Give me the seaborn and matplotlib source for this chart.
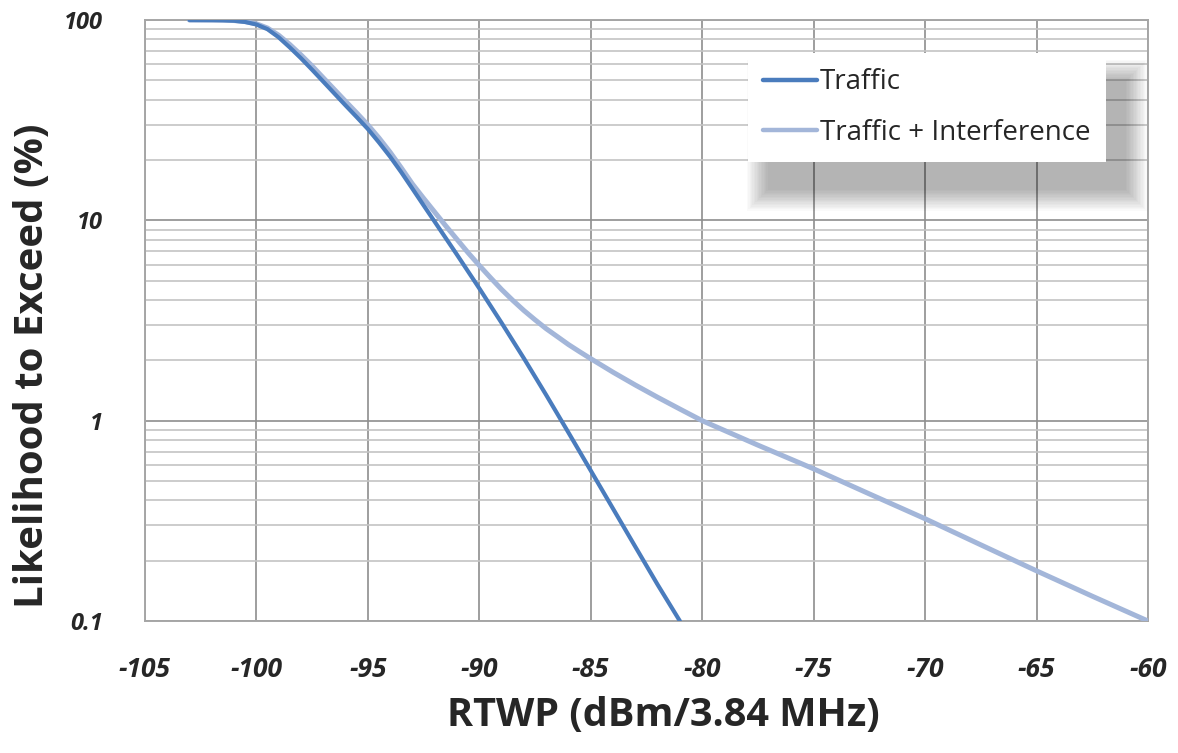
import matplotlib.pyplot as plt
import matplotlib.patches as mpatches
from matplotlib.ticker import FixedLocator, LogLocator, NullFormatter
import seaborn as sns
import pandas as pd
import numpy as np

# RTWP (dBm/3.84 MHz) vs likelihood to exceed (%)
traffic_x = [-103, -102, -101.5, -101, -100.5, -100, -99.5, -99, -98.5, -98, -97.5, -97,
             -96.5, -96, -95.5, -95, -94.5, -94, -93.5, -93, -92.5, -92, -91, -90, -89,
             -88, -87, -86, -85, -84, -83, -82, -81]
traffic_y = [100, 99.9, 99.7, 99.2, 97.8, 95, 90, 82, 73, 64.5, 56.5, 49.3,
             43, 37.5, 32.8, 28.6, 24.5, 20.8, 17.4, 14.4, 11.9, 9.85, 6.74, 4.58, 3.08,
             2.05, 1.345, 0.873, 0.564, 0.364, 0.235, 0.152, 0.1]

interf_x = [-103, -102, -101.5, -101, -100.5, -100, -99.5, -99, -98.5, -98, -97.5, -97,
            -96.5, -96, -95.5, -95, -94.5, -94, -93.5, -93, -92.5, -92, -91.5, -91,
            -90.5, -90, -89.5, -89, -88.5, -88, -87.5, -87, -86.5, -86, -85.5, -85,
            -84, -83, -82, -81, -80, -77.5, -75, -72.5, -70, -67.5, -65, -62.5, -60]
interf_y = [100, 99.9, 99.8, 99.4, 98.2, 95.8, 91.2, 84, 75.5, 67, 59, 51.5,
            45, 39.3, 34.4, 30, 25.8, 21.9, 18.3, 15.2, 12.9, 11.0, 9.38, 8.04,
            6.89, 5.96, 5.18, 4.52, 3.99, 3.55, 3.19, 2.88, 2.63, 2.40, 2.21, 2.04,
            1.746, 1.507, 1.309, 1.143, 1.0, 0.755, 0.575, 0.431, 0.324, 0.24,
            0.178, 0.133, 0.1]

x_ticks = [-105, -100, -95, -90, -85, -80, -75, -70, -65, -60]
y_ticks = [0.1, 1, 10, 100]
y_tick_labels = ['0.1', '1', '10', '100']

df_t = pd.DataFrame({'x': traffic_x, 'y': traffic_y})
df_i = pd.DataFrame({'x': interf_x, 'y': interf_y})

sns.set_style('white')
plt.rcParams['font.family'] = ['Open Sans', 'DejaVu Sans']

fig = plt.figure(figsize=(11.78, 7.53), dpi=100)
ax = fig.add_axes([0.123, 0.1753, 0.8515, 0.7981])

sns.lineplot(data=df_i, x='x', y='y', ax=ax, color='#a3b6d9', linewidth=3.6,
             label='Traffic + Interference', zorder=3)
sns.lineplot(data=df_t, x='x', y='y', ax=ax, color='#4a7cbd', linewidth=3.0,
             label='Traffic', zorder=4)

ax.set_yscale('log')
ax.set_xlim(-105, -60)
ax.set_ylim(0.1, 100)
ax.xaxis.set_major_locator(FixedLocator(x_ticks))
ax.yaxis.set_major_locator(FixedLocator(y_ticks))
ax.yaxis.set_minor_locator(LogLocator(base=10, subs=np.arange(2, 10)))
ax.yaxis.set_minor_formatter(NullFormatter())
ax.set_yticklabels(y_tick_labels)
ax.set_xticklabels([str(v) for v in x_ticks])

ax.grid(True, which='major', axis='both', color='#8e8e8e', linewidth=1.2)
ax.grid(True, which='minor', axis='y', color='#c4c4c4', linewidth=1.2)
ax.set_axisbelow(True)
for s in ax.spines.values():
    s.set_color('#a6a6a6')
    s.set_linewidth(1.4)

ax.tick_params(axis='both', which='both', length=0)
ax.tick_params(axis='x', pad=25)
ax.tick_params(axis='y', pad=30)
for lab in ax.get_xticklabels():
    lab.set_fontsize(19)
    lab.set_fontweight('bold')
    lab.set_fontstyle('italic')
for lab in ax.get_yticklabels():
    lab.set_fontsize(17)
    lab.set_fontweight('bold')
    lab.set_fontstyle('italic')

ax.set_xlabel('RTWP (dBm/3.84 MHz)', fontsize=28.5, fontweight='bold')
ax.set_ylabel('Likelihood to Exceed (%)', fontsize=29, fontweight='bold')
ax.xaxis.set_label_coords(0.517, -0.124)
ax.yaxis.set_label_coords(-0.093, 0.425)

# legend, with a soft drop shadow
handles, labels = ax.get_legend_handles_labels()
leg = ax.legend(handles[::-1], labels[::-1], loc='upper left',
                bbox_to_anchor=(0.601, 0.945), frameon=True, fancybox=False,
                framealpha=1, facecolor='white', fontsize=20, handlelength=1.95,
                handletextpad=0.1, borderpad=0.55, labelspacing=0.8, borderaxespad=0)
leg.get_frame().set_linewidth(0)
leg.set_zorder(10)
for h in leg.get_lines():
    h.set_linewidth(3.2)

fig.canvas.draw()
bb = leg.get_window_extent().transformed(ax.transAxes.inverted())
px, py = 1 / 1003, 1 / 601
for k in range(16):
    g = 1.4 * k
    sh = mpatches.Rectangle((bb.x0 + (20 - g) * px, bb.y0 - (28 + g) * py),
                            bb.width + 2 * g * px, bb.height + 2 * g * py,
                            transform=ax.transAxes, facecolor='black',
                            alpha=0.018, edgecolor='none', zorder=9)
    ax.add_patch(sh)

plt.savefig('out.png', dpi=100)
